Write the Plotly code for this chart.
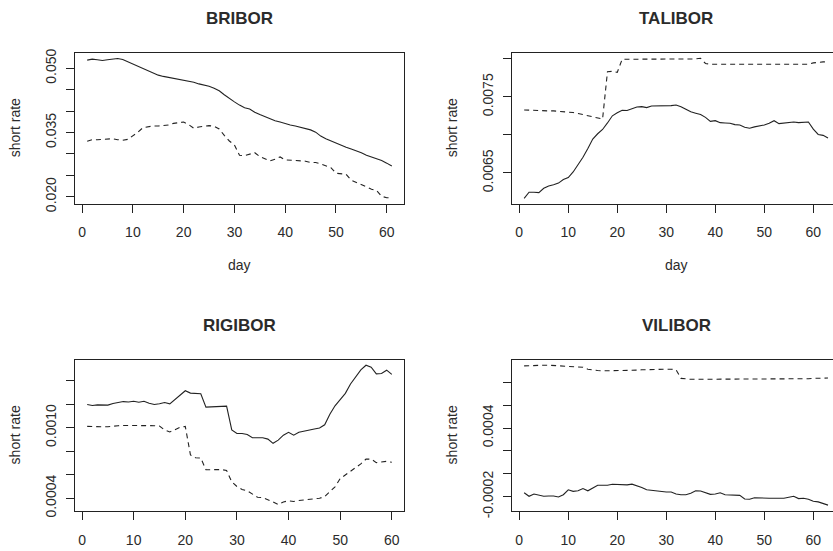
import plotly.graph_objects as go

# ---- daily short-rate series (solid = first estimate, dashed = second) ----
bribor_solid = [0.0519, 0.05213, 0.0520, 0.05183, 0.0520, 0.05206, 0.05228, 0.05206, 0.05152, 0.05091,
                0.05038, 0.04985, 0.04931, 0.04878, 0.0484, 0.0481, 0.04787, 0.04772, 0.04756, 0.04733,
                0.04703, 0.04673, 0.04635, 0.04612, 0.04581, 0.04536, 0.04475, 0.04383, 0.04292, 0.04216,
                0.0414, 0.04079, 0.04048, 0.03972, 0.03919, 0.03865, 0.0382, 0.03774, 0.03744, 0.03706,
                0.03675, 0.03652, 0.03622, 0.03591, 0.03561, 0.03508, 0.03416, 0.03355, 0.03302, 0.03249,
                0.03203, 0.03157, 0.03112, 0.03074, 0.03028, 0.02967, 0.02929, 0.02898, 0.02845, 0.02784,
                0.02716]
bribor_dashed = [0.03294, 0.03332, 0.03332, 0.0334, 0.03348, 0.03355, 0.03332, 0.03317, 0.0334, 0.03416,
                 0.03508, 0.03614, 0.03637, 0.03652, 0.03652, 0.0366, 0.03675, 0.03713, 0.03736, 0.03744,
                 0.03683, 0.03599, 0.0363, 0.03652, 0.0366, 0.03645, 0.03584, 0.03431, 0.03302, 0.03211,
                 0.02967, 0.0296, 0.02997, 0.03028, 0.02937, 0.02891, 0.02837, 0.02876, 0.02929, 0.0286,
                 0.02853, 0.0286, 0.02845, 0.0283, 0.028, 0.028, 0.02769, 0.02716, 0.02678, 0.02548,
                 0.02533, 0.02525, 0.02388, 0.02335, 0.02274, 0.02213, 0.02175, 0.02145, 0.02008, 0.01977,
                 0.01977]

talibor_solid = [0.006165, 0.006247, 0.006247, 0.006242, 0.006298, 0.006328, 0.006345, 0.006367, 0.006414, 0.00644,
                 0.006513, 0.006603, 0.006706, 0.006822, 0.006946, 0.007015, 0.007071, 0.007157, 0.007251, 0.00729,
                 0.007324, 0.00732, 0.007345, 0.007367, 0.007371, 0.007358, 0.00738, 0.00738, 0.00738, 0.007384,
                 0.007384, 0.007393, 0.007371, 0.007337, 0.007303, 0.007285, 0.007268, 0.00723, 0.007178, 0.007187,
                 0.007161, 0.007157, 0.007152, 0.007135, 0.007131, 0.007101, 0.007088, 0.007105, 0.007114, 0.007131,
                 0.007152, 0.007187, 0.007148, 0.007152, 0.007165, 0.00717, 0.007161, 0.00717, 0.00717, 0.007075,
                 0.007006, 0.006994, 0.006959]
talibor_dashed = [0.007328, 0.007324, 0.007324, 0.00732, 0.00732, 0.007315, 0.007315, 0.007311, 0.007307, 0.007298,
                  0.007294, 0.007281, 0.007268, 0.007255, 0.007238, 0.00722, 0.007208, 0.00783, 0.007835, 0.007822,
                  0.007994, 0.007994, 0.007994, 0.00799, 0.00799, 0.007994, 0.007994, 0.00799, 0.007994, 0.007994,
                  0.00799, 0.007998, 0.007998, 0.007998, 0.007998, 0.007998, 0.008006, 0.007938, 0.007929, 0.007929,
                  0.007929, 0.007929, 0.007929, 0.007929, 0.007929, 0.007933, 0.007933, 0.007933, 0.007933, 0.007933,
                  0.007929, 0.007929, 0.007929, 0.007929, 0.007929, 0.007929, 0.007929, 0.007929, 0.007929, 0.007946,
                  0.007955, 0.007959, 0.007959]

rigibor_solid = [0.001197, 0.001189, 0.001194, 0.001194, 0.001192, 0.001206, 0.001217, 0.001222, 0.001219, 0.001225,
                 0.001217, 0.001225, 0.001208, 0.001197, 0.001203, 0.001214, 0.001203, 0.001242, 0.001281, 0.001314,
                 0.001294, 0.001289, 0.001289, 0.001175, 0.001178, 0.001183, 0.001186, 0.001183, 0.000981, 0.00095,
                 0.00095, 0.000942, 0.000914, 0.000914, 0.000914, 0.000903, 0.000867, 0.000894, 0.000936, 0.000961,
                 0.000936, 0.000961, 0.000972, 0.000981, 0.000989, 0.000997, 0.001025, 0.001114, 0.001186, 0.001239,
                 0.001292, 0.001372, 0.001433, 0.001492, 0.001531, 0.001514, 0.001458, 0.001461, 0.001489, 0.001453]
rigibor_dashed = [0.001011, 0.001008, 0.001008, 0.001008, 0.001008, 0.001014, 0.001017, 0.001019, 0.001019, 0.001019,
                  0.001022, 0.001022, 0.001019, 0.001017, 0.001014, 0.000981, 0.000964, 0.000983, 0.001003, 0.001011,
                  0.000769, 0.000744, 0.000742, 0.000642, 0.000644, 0.000647, 0.000644, 0.000636, 0.000539, 0.0005,
                  0.000475, 0.000464, 0.000439, 0.000408, 0.000406, 0.000389, 0.000369, 0.000347, 0.000369, 0.000378,
                  0.000372, 0.000381, 0.000386, 0.000389, 0.000394, 0.0004, 0.000414, 0.000453, 0.000497, 0.000567,
                  0.000597, 0.000631, 0.000664, 0.000692, 0.000733, 0.000733, 0.000703, 0.000706, 0.000714, 0.000706]

vilibor_solid = [-0.000166, -0.000197, -0.000177, -0.000189, -0.000197, -0.000194, -0.000194, -0.000203, -0.000183, -0.00014,
                 -0.000154, -0.000149, -0.000129, -0.000149, -0.000126, -0.0001, -0.0001, -0.0001, -0.000091, -0.000094,
                 -0.000097, -0.000097, -0.000091, -0.000103, -0.00012, -0.00014, -0.000146, -0.000154, -0.00016, -0.00016,
                 -0.00016, -0.000177, -0.000183, -0.000183, -0.000171, -0.000149, -0.000151, -0.000166, -0.00018, -0.000177,
                 -0.000166, -0.000183, -0.000186, -0.000189, -0.000189, -0.00022, -0.000223, -0.000209, -0.000211, -0.000217,
                 -0.000214, -0.000214, -0.000214, -0.000214, -0.000206, -0.000197, -0.000217, -0.000214, -0.000223, -0.00024,
                 -0.000246, -0.000257, -0.000274]
vilibor_dashed = [0.000943, 0.000946, 0.000946, 0.000949, 0.000949, 0.000949, 0.000946, 0.000943, 0.00094, 0.000937,
                  0.000937, 0.000937, 0.000931, 0.000914, 0.000906, 0.000903, 0.0009, 0.0009, 0.0009, 0.0009,
                  0.0009, 0.0009, 0.000903, 0.000906, 0.000909, 0.000911, 0.000911, 0.000911, 0.000914, 0.000914,
                  0.000914, 0.000909, 0.000834, 0.000829, 0.000826, 0.000826, 0.000826, 0.000826, 0.000826, 0.000826,
                  0.000829, 0.000829, 0.000829, 0.000829, 0.000829, 0.000829, 0.000829, 0.000829, 0.000829, 0.000829,
                  0.000829, 0.000829, 0.000829, 0.000829, 0.000829, 0.000829, 0.000829, 0.000831, 0.000831, 0.000834,
                  0.000834, 0.000837, 0.000837]

titles = ["BRIBOR", "TALIBOR", "RIGIBOR", "VILIBOR"]
x_ticks = [0, 10, 20, 30, 40, 50, 60]

# y tick positions and the subset that carries a label
y_ticks = [
    ([0.020, 0.025, 0.030, 0.035, 0.040, 0.045, 0.050], ["0.020", "", "", "0.035", "", "", "0.050"]),
    ([0.0065, 0.0070, 0.0075, 0.0080], ["0.0065", "", "0.0075", ""]),
    ([0.0004, 0.0006, 0.0008, 0.0010, 0.0012, 0.0014], ["0.0004", "", "", "0.0010", "", ""]),
    ([-0.0002, 0.0, 0.0002, 0.0004, 0.0006, 0.0008], ["-0.0002", "", "", "0.0004", "", ""]),
]

series = [
    (bribor_solid, bribor_dashed),
    (talibor_solid, talibor_dashed),
    (rigibor_solid, rigibor_dashed),
    (vilibor_solid, vilibor_dashed),
]

W, H = 833, 551
FONT = "Liberation Sans, Arial, Helvetica, sans-serif"
INK = "#222222"
TXT = "#2b2b2b"

# panel boxes in pixels: (left, right, top, bottom)
boxes = [(75, 404, 50, 204), (512, 833, 50, 204), (75, 404, 364, 518), (512, 833, 364, 518)]
x_ranges = [[-1.4, 63.4], [-1.48, 64.02], [-1.36, 62.36], [-1.48, 64.02]]
y_ranges = [[0.0184, 0.05359], [0.006098, 0.008077], [0.000294, 0.001575], [-0.000323, 0.000994]]

fig = go.Figure()
layout = dict(
    width=W, height=H,
    margin=dict(l=0, r=0, t=0, b=0),
    paper_bgcolor="white", plot_bgcolor="white",
    showlegend=False,
    font=dict(family=FONT, size=14, color=TXT),
)

annotations = []
for i in range(4):
    solid, dashed = series[i]
    ax = "" if i == 0 else str(i + 1)
    days = list(range(1, len(solid) + 1))
    fig.add_trace(go.Scatter(x=days, y=solid, mode="lines", xaxis="x" + ax, yaxis="y" + ax,
                             line=dict(color=INK, width=1.1)))
    fig.add_trace(go.Scatter(x=days, y=dashed, mode="lines", xaxis="x" + ax, yaxis="y" + ax,
                             line=dict(color=INK, width=1.1, dash="5px,4px")))

    l, r, t, b = boxes[i]
    right_panel = i in (1, 3)
    layout["xaxis" + ax] = dict(
        domain=[l / W, r / W], range=x_ranges[i], anchor="y" + ax,
        tickvals=x_ticks, ticks="outside", ticklen=8, tickcolor=INK, tickwidth=1,
        showline=True, linecolor=INK, linewidth=1, mirror=True,
        showgrid=False, zeroline=False, tickfont=dict(size=14, color=TXT),
        ticklabelstandoff=8,
    )
    tv, tt = y_ticks[i]
    layout["yaxis" + ax] = dict(
        domain=[1 - b / H, 1 - t / H], range=y_ranges[i], anchor="x" + ax,
        tickvals=tv, ticktext=tt, tickangle=-90,
        ticks="outside", ticklen=8, tickcolor=INK, tickwidth=1,
        showline=True, linecolor=INK, linewidth=1, mirror=not right_panel,
        showgrid=False, zeroline=False, tickfont=dict(size=14, color=TXT),
        ticklabelstandoff=4,
    )

    cx = (l + (840 if right_panel else r)) / 2
    annotations.append(dict(text="<b>" + titles[i] + "</b>", x=cx / W, y=1 - (t - 35) / H,
                            xref="paper", yref="paper", showarrow=False,
                            font=dict(size=17, color=TXT), xanchor="center", yanchor="middle"))
    annotations.append(dict(text="short rate", x=(l - 60) / W, y=1 - ((t + b) / 2) / H,
                            xref="paper", yref="paper", showarrow=False, textangle=-90,
                            font=dict(size=14, color=TXT), xanchor="center", yanchor="middle"))
    if i < 2:
        annotations.append(dict(text="day", x=cx / W, y=1 - (b + 63) / H,
                                xref="paper", yref="paper", showarrow=False,
                                font=dict(size=14, color=TXT), xanchor="center", yanchor="middle"))

layout["annotations"] = annotations
fig.update_layout(**layout)
fig.write_html("out.html")
